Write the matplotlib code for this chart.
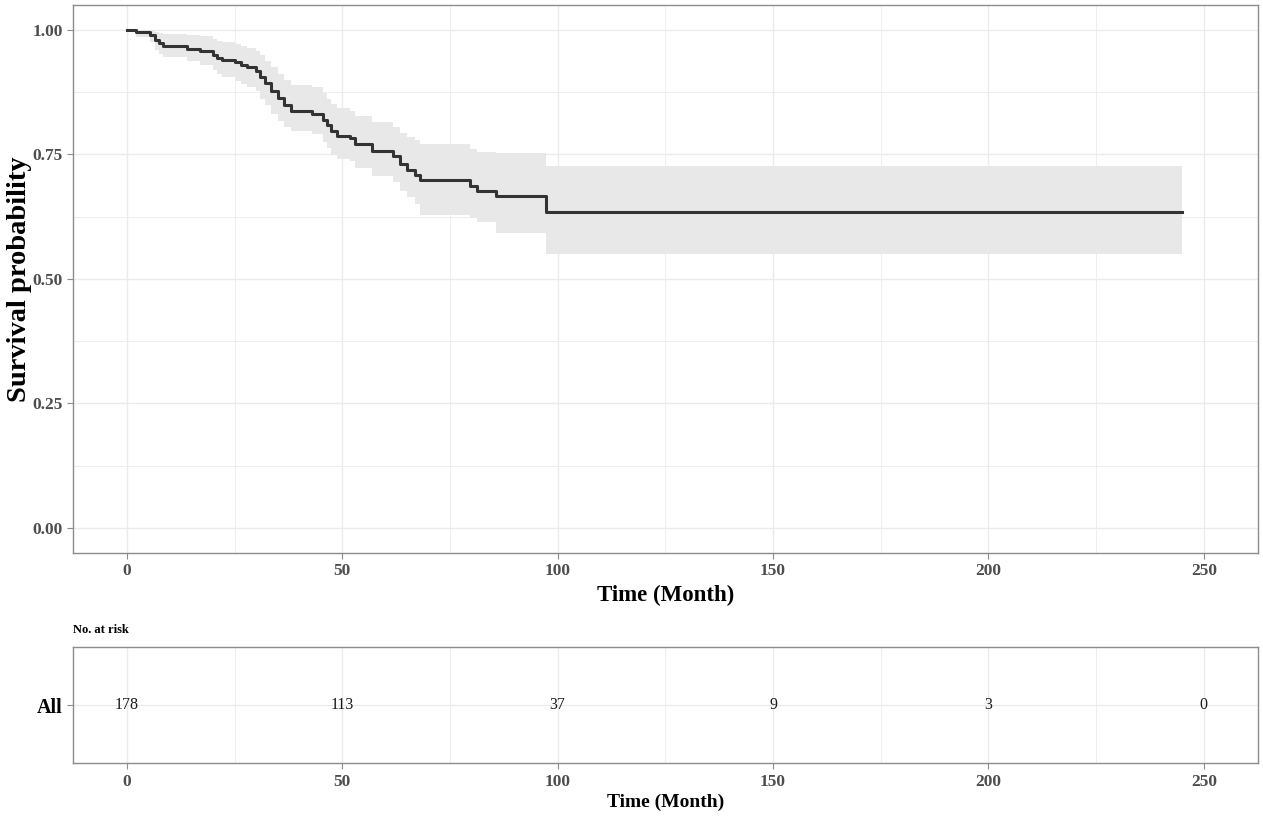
import matplotlib.pyplot as plt
import numpy as np

plt.rcParams['font.family'] = ['Liberation Serif', 'DejaVu Serif']

# Kaplan-Meier steps
times = [0, 2.2, 5.3, 6.5, 7.5, 8.5, 14, 17, 20, 21, 22, 25, 26.5, 28, 30, 31, 32,
         33.5, 35, 36.5, 38, 43, 45.5, 46.5, 47.5, 48.7, 51.8, 53, 56.8, 61.8,
         63.5, 65, 67, 68, 79.6, 81.2, 85.8, 97.3, 245]
surv = [1.000, 0.995, 0.990, 0.980, 0.973, 0.968, 0.962, 0.957, 0.950, 0.944,
        0.940, 0.935, 0.930, 0.925, 0.917, 0.905, 0.893, 0.878, 0.863, 0.850,
        0.838, 0.832, 0.820, 0.808, 0.797, 0.787, 0.783, 0.771, 0.756, 0.746,
        0.730, 0.719, 0.709, 0.699, 0.687, 0.677, 0.667, 0.635, 0.635]
upper = [1.000, 1.000, 0.998, 0.995, 0.993, 0.992, 0.990, 0.987, 0.982, 0.978,
         0.975, 0.972, 0.968, 0.964, 0.958, 0.950, 0.938, 0.925, 0.912, 0.900,
         0.890, 0.885, 0.873, 0.862, 0.852, 0.843, 0.838, 0.828, 0.815, 0.805,
         0.792, 0.785, 0.778, 0.770, 0.760, 0.755, 0.752, 0.726, 0.726]
lower = [1.000, 0.985, 0.975, 0.960, 0.952, 0.945, 0.937, 0.930, 0.920, 0.912,
         0.905, 0.898, 0.892, 0.886, 0.877, 0.862, 0.849, 0.832, 0.816, 0.804,
         0.797, 0.790, 0.775, 0.762, 0.749, 0.740, 0.736, 0.722, 0.706, 0.694,
         0.676, 0.664, 0.650, 0.628, 0.622, 0.615, 0.592, 0.551, 0.551]

risk_times = [0, 50, 100, 150, 200, 250]
risk_counts = [178, 113, 37, 9, 3, 0]

tick_col = '#4d4d4d'
grid_col = '#ebebeb'
border_col = '#8c8c8c'

fig = plt.figure(figsize=(12.63, 8.18), dpi=100)
ax = fig.add_axes([0.0578, 0.324, 0.938, 0.670])
ax2 = fig.add_axes([0.0578, 0.067, 0.938, 0.142])


def style(a):
    a.set_facecolor('white')
    for s in a.spines.values():
        s.set_color(border_col)
        s.set_linewidth(1.0)
    a.set_xticks([0, 50, 100, 150, 200, 250])
    a.set_xticks([25, 75, 125, 175, 225], minor=True)
    a.grid(True, which='major', color=grid_col, lw=1.0)
    a.grid(True, which='minor', color=grid_col, lw=0.6)
    a.set_axisbelow(True)
    a.tick_params(which='major', length=4, color=border_col, labelcolor=tick_col,
                  labelsize=12.5)
    a.tick_params(which='minor', length=0)
    a.set_xlim(-12.5, 262.5)
    for lbl in a.get_xticklabels() + a.get_yticklabels():
        lbl.set_fontweight('bold')


ax.fill_between(times, lower, upper, step='post', color='#e8e8e8', lw=0)
ax.step(times, surv, where='post', color='#333333', lw=2.2)
ax.set_ylim(-0.05, 1.05)
ax.set_yticks([0, 0.25, 0.5, 0.75, 1.0])
ax.set_yticks([0.125, 0.375, 0.625, 0.875], minor=True)
ax.set_yticklabels(['0.00', '0.25', '0.50', '0.75', '1.00'])
style(ax)
ax.set_xlabel('Time (Month)', fontsize=16.5, fontweight='bold', labelpad=4)
ax.set_ylabel('Survival probability', fontsize=20.5, fontweight='bold', labelpad=0)

for t, n in zip(risk_times, risk_counts):
    ax2.text(t, 1, str(n), ha='center', va='center', fontsize=11.5, color='#1a1a1a')
ax2.set_ylim(0, 2)
ax2.set_yticks([1])
ax2.set_yticklabels(['All'])
style(ax2)
ax2.tick_params(axis='y', labelsize=14.5, labelcolor='black')
ax2.yaxis.get_ticklabels()[0].set_fontweight('bold')
ax2.set_xlabel('Time (Month)', fontsize=14, fontweight='bold', labelpad=3)
ax2.set_title('No. at risk', fontsize=9, fontweight='bold', loc='left', x=0.0, pad=10)

fig.savefig('out.png', dpi=100)
